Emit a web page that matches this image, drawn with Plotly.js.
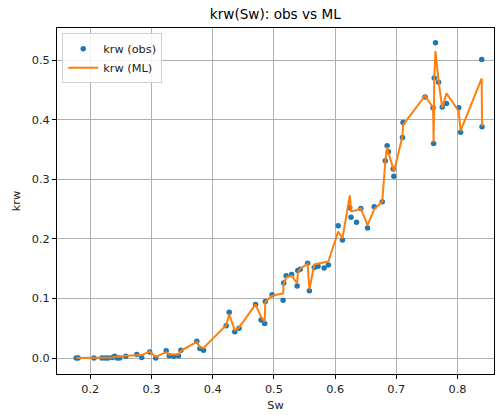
<!DOCTYPE html>
<html>
<head>
<meta charset="utf-8">
<script src="https://cdn.plot.ly/plotly-3.0.1.min.js"></script>
<style>html,body{margin:0;padding:0;background:#fff;}#chart{width:496px;height:415px;}</style>
</head>
<body>
<div id="chart"></div>
<script>
// Water saturation (sorted)
const sw = [0.177,0.180,0.206,0.219,0.224,0.229,0.236,0.240,0.244,0.248,
  0.258,0.276,0.284,0.297,0.307,0.324,0.329,0.336,0.344,0.348,
  0.374,0.379,0.385,0.422,0.427,0.436,0.443,0.470,0.479,0.485,
  0.486,0.497,0.515,0.516,0.520,0.529,0.538,0.539,0.543,0.555,
  0.558,0.566,0.572,0.582,0.589,0.605,0.612,0.624,0.626,0.635,
  0.642,0.653,0.664,0.677,0.682,0.685,0.687,0.695,0.696,0.710,
  0.711,0.747,0.760,0.761,0.762,0.764,0.769,0.775,0.782,0.802,
  0.805,0.8395,0.840];
// Observed krw
const krwObs = [0.000,0.000,0.000,0.000,0.000,0.000,0.001,0.003,0.000,0.000,
  0.003,0.006,0.001,0.010,0.000,0.012,0.004,0.003,0.004,0.013,
  0.028,0.016,0.013,0.054,0.077,0.044,0.050,0.090,0.064,0.058,
  0.095,0.106,0.097,0.126,0.138,0.140,0.121,0.147,0.149,0.159,
  0.113,0.152,0.154,0.151,0.156,0.222,0.198,0.252,0.236,0.228,
  0.251,0.218,0.254,0.262,0.331,0.356,0.346,0.317,0.305,0.370,
  0.395,0.438,0.420,0.360,0.470,0.529,0.4625,0.421,0.427,0.420,
  0.379,0.501,0.388];
// ML-predicted krw
const krwML = [0.000,0.000,0.000,0.000,0.001,0.001,0.001,0.002,0.002,0.002,
  0.004,0.005,0.005,0.011,0.002,0.010,0.006,0.006,0.006,0.012,
  0.027,0.018,0.017,0.055,0.073,0.047,0.051,0.090,0.069,0.061,
  0.094,0.1045,0.1085,0.125,0.135,0.138,0.125,0.142,0.150,0.158,
  0.115,0.157,0.158,0.1605,0.162,0.212,0.201,0.273,0.246,0.248,
  0.251,0.223,0.250,0.262,0.330,0.354,0.345,0.318,0.312,0.372,
  0.391,0.440,0.420,0.362,0.470,0.515,0.465,0.420,0.444,0.414,
  0.381,0.469,0.389];

const xTicks = [0.2,0.3,0.4,0.5,0.6,0.7,0.8];
const yTicks = [0.0,0.1,0.2,0.3,0.4,0.5];

const font = 'DejaVu Sans, sans-serif';
const traces = [
  {x: sw, y: krwObs, type: 'scatter', mode: 'markers', name: 'krw (obs)',
   marker: {color: '#1f77b4', size: 5.5}},
  {x: sw, y: krwML, type: 'scatter', mode: 'lines', name: 'krw (ML)',
   line: {color: '#ff7f0e', width: 2}}
];
const axisCommon = {
  showline: true, mirror: true, linecolor: '#000', linewidth: 1,
  showgrid: true, gridcolor: '#b0b0b0', gridwidth: 1,
  zeroline: false, ticks: 'outside', ticklen: 4, tickcolor: '#000',
  tickfont: {family: font, size: 11.3, color: '#222'}
};
const layout = {
  width: 496, height: 415,
  margin: {l: 57, r: 2, t: 28, b: 41},
  paper_bgcolor: '#fff', plot_bgcolor: '#fff',
  font: {family: font, color: '#222'},
  title: {text: 'krw(Sw): obs vs ML', font: {family: font, size: 13.6, color: '#000'},
          x: 0.555, xanchor: 'center', y: 0.966, yanchor: 'middle'},
  xaxis: Object.assign({}, axisCommon, {
    range: [0.1456, 0.8596], tickvals: xTicks, ticktext: xTicks.map(v => v.toFixed(1)),
    title: {text: 'Sw', font: {family: font, size: 11.3, color: '#222'}, standoff: 6}
  }),
  yaxis: Object.assign({}, axisCommon, {
    range: [-0.0268, 0.5537], tickvals: yTicks, ticktext: yTicks.map(v => v.toFixed(1)),
    title: {text: 'krw', font: {family: font, size: 11.3, color: '#222'}, standoff: 8}
  }),
  legend: {x: 0.012, y: 0.985, xanchor: 'left', yanchor: 'top',
           bgcolor: 'rgba(255,255,255,0.85)', bordercolor: '#d0d0d0', borderwidth: 1,
           font: {family: font, size: 11.3, color: '#222'}},
  showlegend: true
};
Plotly.newPlot('chart', traces, layout, {displayModeBar: false, staticPlot: true});
</script>
</body>
</html>
